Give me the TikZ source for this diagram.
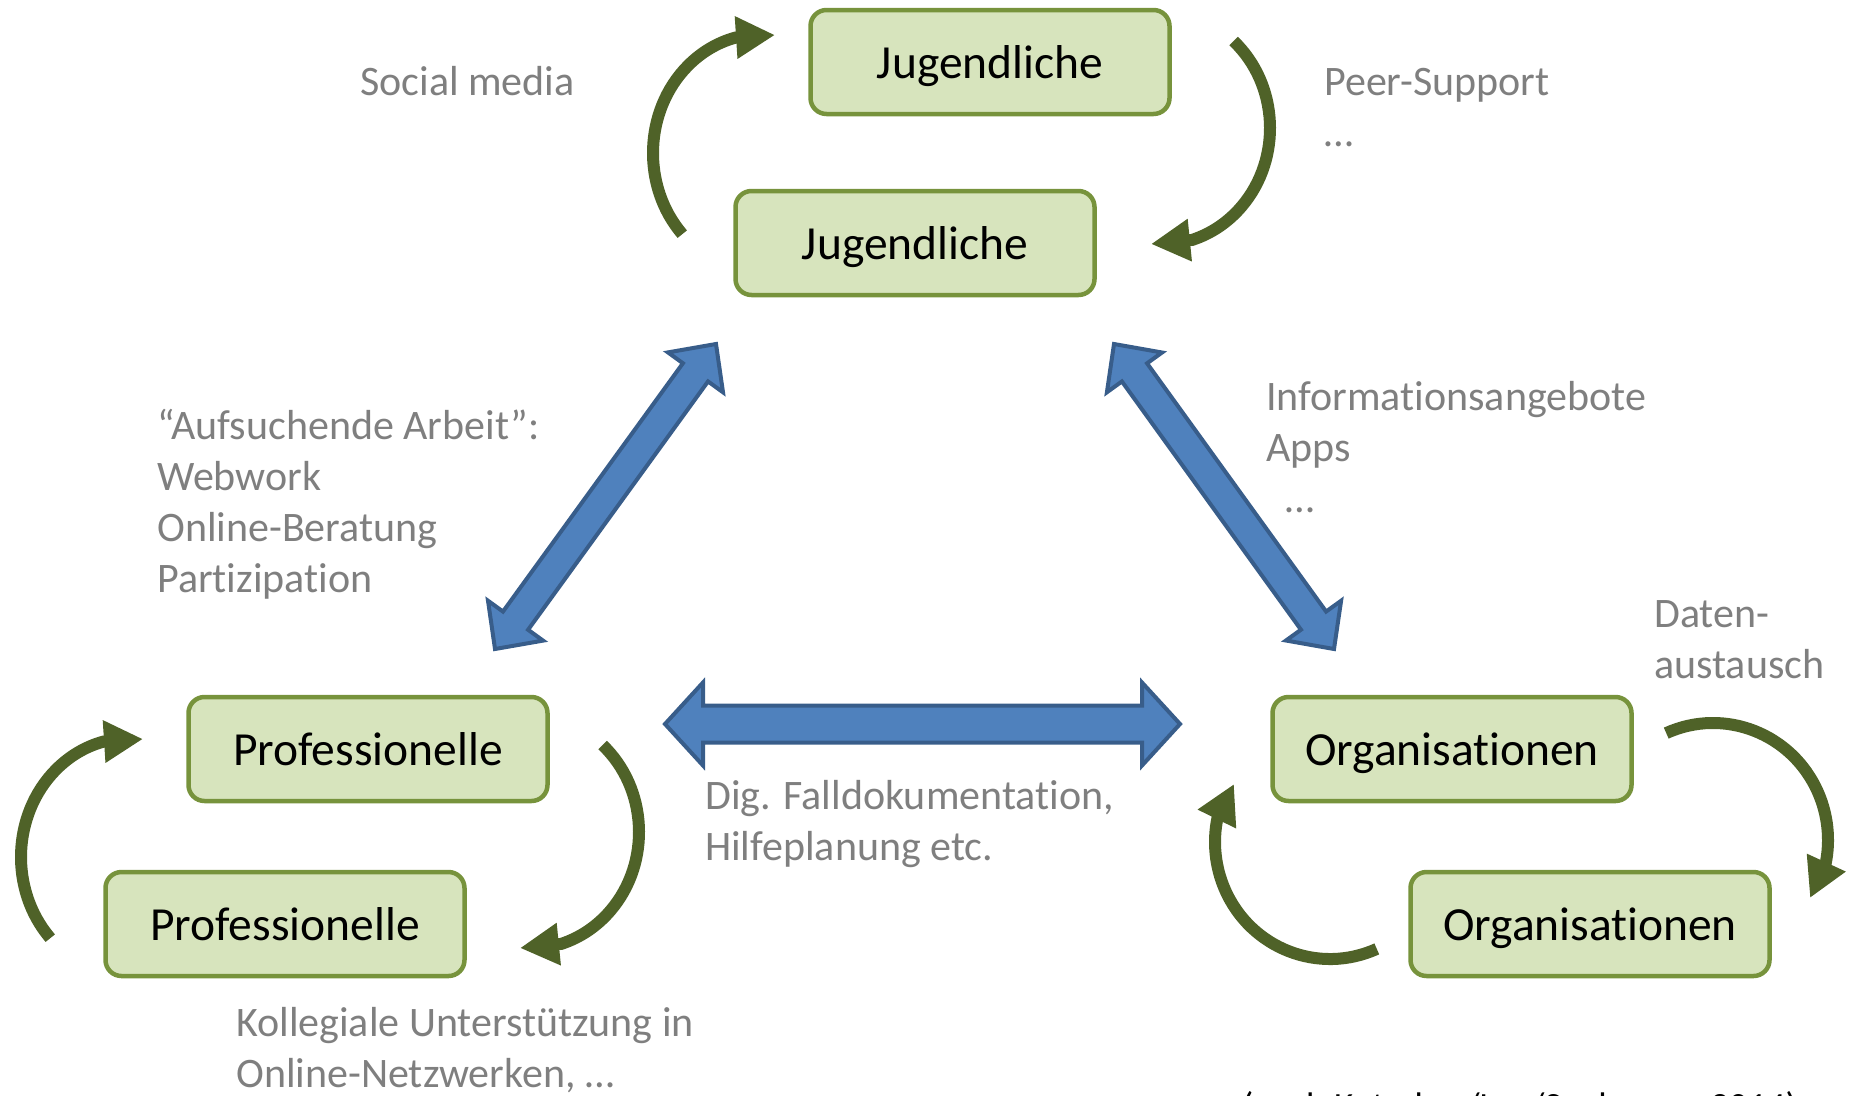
\documentclass[tikz,border=0pt]{standalone}
\usepackage{fontspec}
\setmainfont{Carlito}[RawFeature={-liga;-clig;-calt;-dlig}]
\usetikzlibrary{calc,arrows.meta}
\definecolor{boxfill}{HTML}{D7E4BD}
\definecolor{boxline}{HTML}{77933C}
\definecolor{loopgreen}{HTML}{4F6228}
\definecolor{arrowfill}{HTML}{4F81BD}
\definecolor{arrowline}{HTML}{385D8A}
\definecolor{labelgray}{HTML}{7F7F7F}
% #1 first tip, #2 second tip, #3 shaft half width, #4 head half width, #5 head length
\newcommand\dblblockarrow[5]{%
  \draw[blockarrow] (#1)
   -- ($(#1)!#5!(#2)!#4!90:(#2)$)
   -- ($(#1)!#5!(#2)!#3!90:(#2)$)
   -- ($(#2)!#5!(#1)!#3!-90:(#1)$)
   -- ($(#2)!#5!(#1)!#4!-90:(#1)$)
   -- (#2)
   -- ($(#2)!#5!(#1)!#4!90:(#1)$)
   -- ($(#2)!#5!(#1)!#3!90:(#1)$)
   -- ($(#1)!#5!(#2)!#3!-90:(#2)$)
   -- ($(#1)!#5!(#2)!#4!-90:(#2)$)
   -- cycle;}
\tikzset{
  entity/.style={draw=boxline, fill=boxfill, line width=4.5pt, rounded corners=16pt,
    minimum width=359pt, minimum height=104pt, inner sep=0pt,
    text height=44pt, text depth=12pt,
    font=\fontsize{47.5}{57}\selectfont, text=black},
  lbl/.style={anchor=base west, inner sep=0pt, text=labelgray, font=\fontsize{42}{51}\selectfont},
  looparrow/.style={draw=loopgreen, line width=12pt, -{Triangle[length=39pt,width=40pt]}},
  blockarrow/.style={draw=arrowline, fill=arrowfill, line width=4pt, line join=miter},
}
\begin{document}
\begin{tikzpicture}[x=1pt,y=-1pt]
\useasboundingbox (0,0) rectangle (1849,1095);
\clip (0,0) rectangle (1849,1095);

% boxes
\node[entity] (jug1) at (990,62) {Jugendliche};
\node[entity] (jug2) at (915,243) {Jugendliche};
\node[entity] (pro1) at (368,749) {Professionelle};
\node[entity] (pro2) at (285,924) {Professionelle};
\node[entity] (org1) at (1452,749) {Organisationen};
\node[entity] (org2) at (1590,924) {Organisationen};

% blue double arrows
\coordinate (hL) at (665,724);  \coordinate (hR) at (1180,724);
\coordinate (dlLow) at (495,649); \coordinate (dlUp) at (716,344);
\coordinate (drLow) at (1334,649); \coordinate (drUp) at (1114,344);
\dblblockarrow{hL}{hR}{18.5pt}{41.5pt}{38pt}
\dblblockarrow{dlLow}{dlUp}{15.5pt}{34pt}{35pt}
\dblblockarrow{drLow}{drUp}{15.5pt}{34pt}{35pt}

% green loop arrows
\coordinate (jlT) at ($(762,153)+(137:109 and 119)$);
\coordinate (jlTip) at (775,35);
\draw[looparrow] (jlT) arc[start angle=137,end angle=256,x radius=109,y radius=119] -- (jlTip);

\coordinate (jrT) at ($(1160,128)+(-48:110 and 117)$);
\coordinate (jrTip) at (1151,244);
\draw[looparrow] (jrT) arc[start angle=-48,end angle=73,x radius=110,y radius=117] -- (jrTip);

\coordinate (plT) at ($(130,857)+(137:109 and 119)$);
\coordinate (plTip) at (143,739);
\draw[looparrow] (plT) arc[start angle=137,end angle=256,x radius=109,y radius=119] -- (plTip);

\coordinate (prT) at ($(529,832)+(-48:110 and 117)$);
\coordinate (prTip) at (520,948);
\draw[looparrow] (prT) arc[start angle=-48,end angle=73,x radius=110,y radius=117] -- (prTip);

\coordinate (orT) at ($(1713,840)+(-114:115 and 117)$);
\coordinate (orTip) at (1810,898);
\draw[looparrow] (orT) arc[start angle=-114,end angle=12,x radius=115,y radius=117] -- (orTip);

\coordinate (olT) at ($(1330,842)+(66:115 and 117)$);
\coordinate (olTip) at (1234,784);
\draw[looparrow] (olT) arc[start angle=66,end angle=192,x radius=115,y radius=117] -- (olTip);

% labels
\node[lbl] (social) at (360,95) {Social media};
\node[lbl] (peer) at (1324,95) {\begin{tabular}[t]{@{}l@{}}Peer-Support\\…\end{tabular}};
\node[lbl] (aufs) at (157,439) {\begin{tabular}[t]{@{}l@{}}“Aufsuchende Arbeit”:\\Webwork\\Online-Beratung\\Partizipation\end{tabular}};
\node[lbl] (info) at (1266,410) {\begin{tabular}[t]{@{}l@{}}Informationsangebote\\Apps\\\hspace*{19pt}…\end{tabular}};
\node[lbl] (daten) at (1654,627) {\begin{tabular}[t]{@{}l@{}}Daten-\\austausch\end{tabular}};
\node[lbl] (dig) at (705,809) {\begin{tabular}[t]{@{}l@{}}Dig. Falldokumentation,\\Hilfeplanung etc.\end{tabular}};
\node[lbl] (koll) at (236,1036) {\begin{tabular}[t]{@{}l@{}}Kollegiale Unterstützung in\\Online-Netzwerken, …\end{tabular}};
\node[lbl, text=black, font=\fontsize{37}{45}\selectfont] (cite) at (1242,1118) {(nach Kutscher/Ley/Seelmeyer 2014)};
\end{tikzpicture}
\end{document}
